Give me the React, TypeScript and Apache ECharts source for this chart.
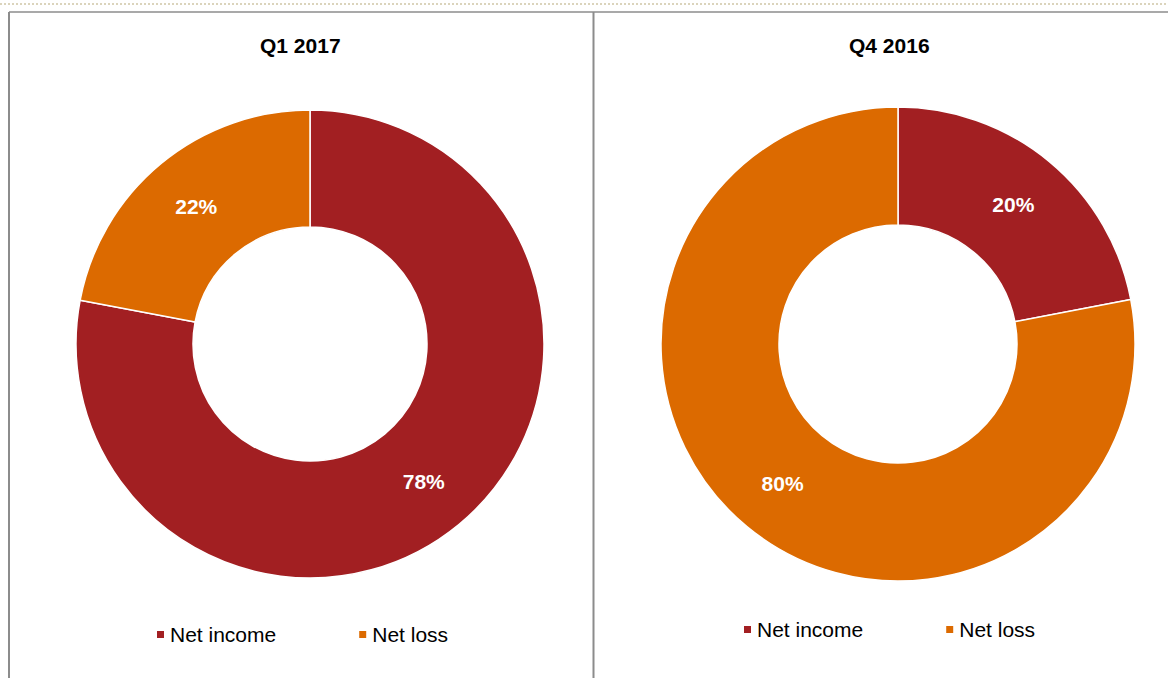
import React, { useEffect, useRef } from "react";
import * as echarts from "echarts";

const categories = ["Net income", "Net loss"];
const q1Values = [78, 22];
const q1Labels = ["78%", "22%"];
const q4Values = [22, 78];
const q4Labels = ["20%", "80%"];
const titles = ["Q1 2017", "Q4 2016"];
const colors = ["#A21F22", "#DC6A00"];

const FONT = "Liberation Sans, Arial, sans-serif";

export default function App() {
  const ref = useRef<HTMLDivElement>(null);
  useEffect(() => {
    document.body.style.margin = "0";
    const chart = echarts.init(ref.current!, null, { renderer: "svg" });
    const mkData = (vals: number[], labels: string[]) =>
      vals.map((v, i) => ({ name: categories[i], value: v, labelText: labels[i] }));
    const labelCfg = {
      show: true,
      position: "inside",
      color: "#fff",
      fontWeight: "bold",
      fontSize: 21,
      fontFamily: FONT,
      formatter: (p: any) => p.data.labelText,
    };
    const legendBase = {
      icon: "rect",
      itemWidth: 9,
      itemHeight: 9,
      itemGap: 81,
      selectedMode: false,
      textStyle: { fontSize: 21, color: "#000", fontFamily: FONT },
      data: categories,
    };
    const titleStyle = { fontSize: 21, fontWeight: "bold", color: "#000", fontFamily: FONT };
    chart.setOption({
      animation: false,
      color: colors,
      title: [
        { text: titles[0], left: 255, top: 30, textStyle: titleStyle },
        { text: titles[1], left: 844, top: 30, textStyle: titleStyle },
      ],
      legend: [
        { ...legendBase, left: 150, top: 619 },
        { ...legendBase, left: 737, top: 614 },
      ],
      graphic: [
        {
          type: "line",
          shape: { x1: 0, y1: 4, x2: 1168, y2: 4 },
          style: { stroke: "#cfc6a6", lineWidth: 1.5, lineDash: [2, 2] },
        },
        {
          type: "line",
          shape: { x1: 9, y1: 12, x2: 1168, y2: 12 },
          style: { stroke: "#8c8c8c", lineWidth: 1.5 },
        },
        {
          type: "line",
          shape: { x1: 9, y1: 12, x2: 9, y2: 678 },
          style: { stroke: "#8c8c8c", lineWidth: 2 },
        },
        {
          type: "line",
          shape: { x1: 593.5, y1: 12, x2: 593.5, y2: 678 },
          style: { stroke: "#8c8c8c", lineWidth: 2 },
        },
      ],
      series: [
        {
          type: "pie",
          center: [310, 344],
          radius: [117, 234],
          startAngle: 90,
          clockwise: true,
          data: mkData(q1Values, q1Labels),
          label: labelCfg,
          labelLine: { show: false },
          itemStyle: { borderColor: "#fff", borderWidth: 1.5 },
          emphasis: { disabled: true },
        },
        {
          type: "pie",
          center: [898, 344],
          radius: [119, 237],
          startAngle: 90,
          clockwise: true,
          data: mkData(q4Values, q4Labels),
          label: labelCfg,
          labelLine: { show: false },
          itemStyle: { borderColor: "#fff", borderWidth: 1.5 },
          emphasis: { disabled: true },
        },
      ],
    });
    return () => chart.dispose();
  }, []);
  return (
    <div
      ref={ref}
      style={{ position: "absolute", left: 0, top: 0, width: 1168, height: 678, background: "#fff" }}
    />
  );
}
